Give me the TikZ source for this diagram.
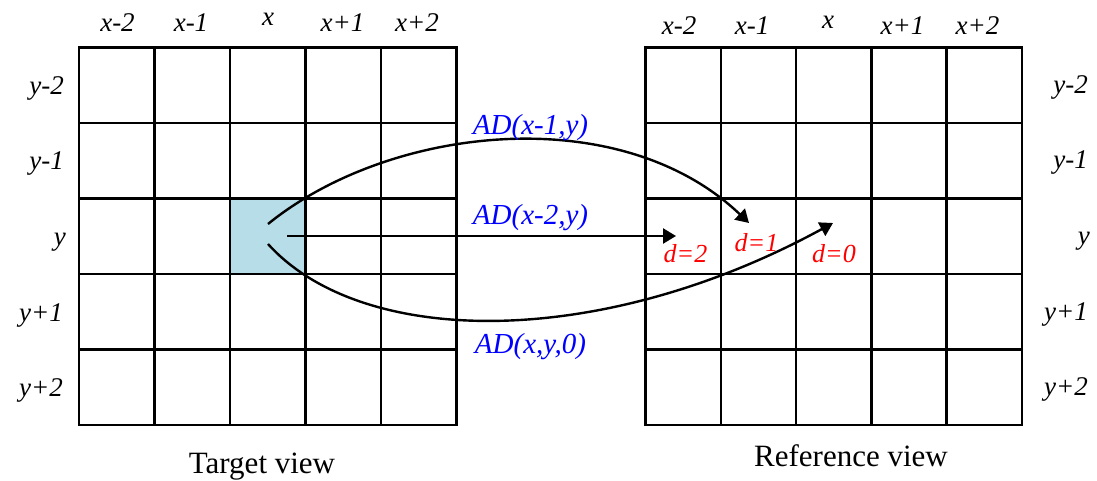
\documentclass[tikz,border=0pt]{standalone}
\usepackage{fontspec}
\setmainfont{Liberation Serif}[ItalicFont={Liberation Serif Italic},BoldFont={Liberation Serif Bold}]
\usetikzlibrary{arrows.meta}
\definecolor{cellblue}{RGB}{183,221,232}
\definecolor{adblue}{RGB}{0,0,255}
\definecolor{dred}{RGB}{255,0,0}
\begin{document}
\begin{tikzpicture}[x=1pt,y=-1pt,
  gridline/.style={line width=2.6pt,line cap=rect},
  axlab/.style={font=\fontsize{27}{30}\selectfont\itshape,inner sep=0pt,anchor=base},
  rowlab/.style={font=\fontsize{27}{30}\selectfont\itshape,inner sep=0pt,anchor=base east},
  adlab/.style={font=\fontsize{29}{32}\selectfont\itshape,text=adblue,inner sep=0pt,anchor=base},
  dlab/.style={font=\fontsize{26}{28}\selectfont\itshape,text=dred,inner sep=0pt,anchor=base},
  caplab/.style={font=\fontsize{31}{34}\selectfont,inner sep=0pt,anchor=base},
  conn/.style={line width=2.4pt,-{Triangle[length=13pt,width=15pt]}}]
\useasboundingbox (0,0) rectangle (1097,481);
% shaded cell
\fill[cellblue] (230,198.5) rectangle (305.5,274);
% left grid
\foreach \i in {0,...,5}{
  \draw[gridline] (79+75.5*\i,47.5) -- (79+75.5*\i,425);
  \draw[gridline] (79,47.5+75.5*\i) -- (456.5,47.5+75.5*\i);
}
% right grid
\foreach \i in {0,...,5}{
  \draw[gridline] (645.5+75.3*\i,47.5) -- (645.5+75.3*\i,425);
  \draw[gridline] (645.5,47.5+75.5*\i) -- (1022,47.5+75.5*\i);
}
% column labels left
\node[axlab] (lc1) at (117.5,32) {x-2};
\node[axlab] (lc2) at (191,32) {x-1};
\node[axlab] (lc3) at (268,26) {x};
\node[axlab] (lc4) at (342.5,32) {x+1};
\node[axlab] (lc5) at (417,32) {x+2};
% column labels right
\node[axlab] (rc1) at (679,35) {x-2};
\node[axlab] (rc2) at (752,35) {x-1};
\node[axlab] (rc3) at (828,29) {x};
\node[axlab] (rc4) at (902.5,35) {x+1};
\node[axlab] (rc5) at (977.5,35) {x+2};
% row labels left
\node[rowlab] (lr1) at (64,94.5) {y-2};
\node[rowlab] (lr2) at (64,170) {y-1};
\node[rowlab] (lr3) at (66,245.5) {y};
\node[rowlab] (lr4) at (63,321) {y+1};
\node[rowlab] (lr5) at (63,396.5) {y+2};
% row labels right
\node[rowlab] (rr1) at (1088,93.5) {y-2};
\node[rowlab] (rr2) at (1088,169) {y-1};
\node[rowlab] (rr3) at (1090,244.5) {y};
\node[rowlab] (rr4) at (1088,320) {y+1};
\node[rowlab] (rr5) at (1088,395.5) {y+2};
% connector end points
\coordinate (s1) at (268,224);
\coordinate (s2) at (287,236);
\coordinate (s3) at (268,244);
\coordinate (e1) at (749,223);
\coordinate (e2) at (676,236);
\coordinate (e3) at (833,223);
\draw[conn] (s1) .. controls (390,125) and (620,100) .. (e1);
\draw[conn] (s2) -- (e2);
\draw[conn] (s3) .. controls (362,348) and (600,350) .. (e3);
% AD labels
\node[adlab] (ad1) at (530.5,135) {AD(x-1,y)};
\node[adlab] (ad2) at (530.5,225) {AD(x-2,y)};
\node[adlab] (ad3) at (530.5,353) {AD(x,y,0)};
% d labels
\node[dlab] (d2) at (685.5,262) {d=2};
\node[dlab] (d1) at (756.5,251.5) {d=1};
\node[dlab] (d0) at (834,262) {d=0};
% captions
\node[caplab] (tv) at (262,473) {Target view};
\node[caplab] (rv) at (851,466) {Reference view};
\end{tikzpicture}
\end{document}
